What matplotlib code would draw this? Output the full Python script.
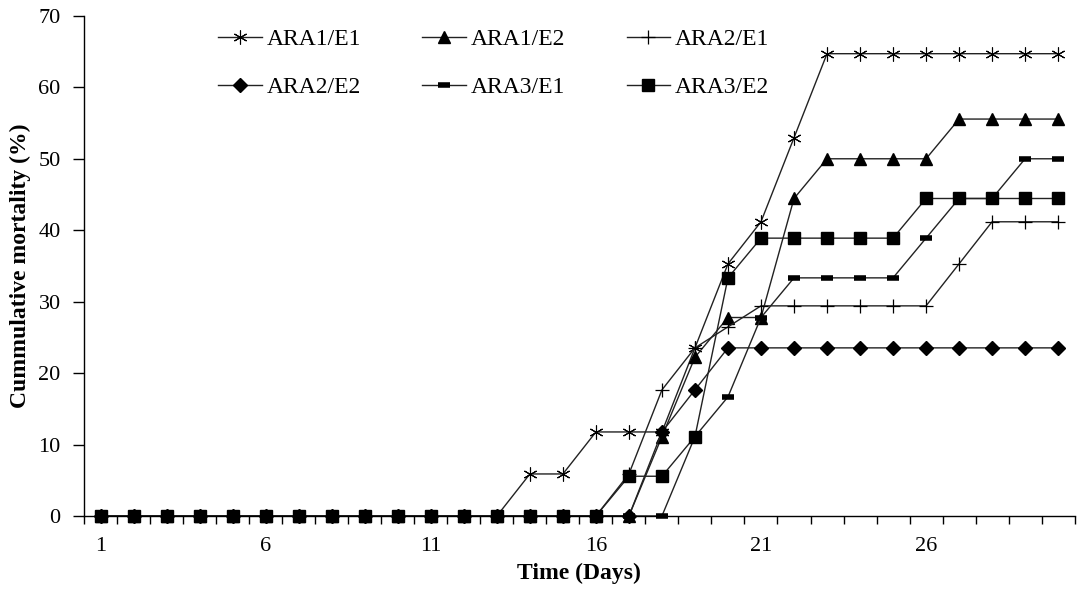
import matplotlib.pyplot as plt
from matplotlib.ticker import MultipleLocator, FixedLocator

plt.rcParams['font.family'] = ['Liberation Serif', 'DejaVu Serif']

days = list(range(1, 31))

ara1_e1 = [0, 0, 0, 0, 0, 0, 0, 0, 0, 0, 0, 0, 0, 5.88, 5.88, 11.76, 11.76, 11.76,
           23.53, 35.29, 41.18, 52.94, 64.71, 64.71, 64.71, 64.71, 64.71, 64.71, 64.71, 64.71]
ara1_e2 = [0, 0, 0, 0, 0, 0, 0, 0, 0, 0, 0, 0, 0, 0, 0, 0, 0, 11.11,
           22.22, 27.78, 27.78, 44.44, 50, 50, 50, 50, 55.56, 55.56, 55.56, 55.56]
ara2_e1 = [0, 0, 0, 0, 0, 0, 0, 0, 0, 0, 0, 0, 0, 0, 0, 0, 5.88, 17.65,
           23.53, 26.47, 29.41, 29.41, 29.41, 29.41, 29.41, 29.41, 35.29, 41.18, 41.18, 41.18]
ara2_e2 = [0, 0, 0, 0, 0, 0, 0, 0, 0, 0, 0, 0, 0, 0, 0, 0, 0, 11.76,
           17.65, 23.53, 23.53, 23.53, 23.53, 23.53, 23.53, 23.53, 23.53, 23.53, 23.53, 23.53]
ara3_e1 = [0, 0, 0, 0, 0, 0, 0, 0, 0, 0, 0, 0, 0, 0, 0, 0, 0, 0,
           11.11, 16.67, 27.78, 33.33, 33.33, 33.33, 33.33, 38.89, 44.44, 44.44, 50, 50]
ara3_e2 = [0, 0, 0, 0, 0, 0, 0, 0, 0, 0, 0, 0, 0, 0, 0, 0, 5.56, 5.56,
           11.11, 33.33, 38.89, 38.89, 38.89, 38.89, 38.89, 44.44, 44.44, 44.44, 44.44, 44.44]

series = [
    ('ARA1/E1', ara1_e1, dict(marker=(6, 2, 0), markersize=10, markeredgewidth=0.8)),
    ('ARA1/E2', ara1_e2, dict(marker='^', markersize=9)),
    ('ARA2/E1', ara2_e1, dict(marker='+', markersize=10, markeredgewidth=0.9)),
    ('ARA2/E2', ara2_e2, dict(marker='D', markersize=7)),
    ('ARA3/E1', ara3_e1, dict(marker='_', markersize=8, markeredgewidth=4)),
    ('ARA3/E2', ara3_e2, dict(marker='s', markersize=9)),
]

fig = plt.figure(figsize=(10.8, 5.89), dpi=100)
ax = fig.add_axes([0.078, 0.124, 0.917, 0.849])

handles = []
for name, vals, style in series:
    h, = ax.plot(days, vals, color='#222222', linewidth=1.0, markerfacecolor='black',
                 markeredgecolor='black', label=name, clip_on=False, **style)
    handles.append(h)

ax.set_xlim(0.5, 30.5)
ax.set_ylim(0, 70)
ax.yaxis.set_major_locator(MultipleLocator(10))
ax.xaxis.set_major_locator(FixedLocator([1, 6, 11, 16, 21, 26]))
ax.xaxis.set_minor_locator(FixedLocator([d + 0.5 for d in range(0, 31)]))
ax.tick_params(axis='x', which='major', length=0, pad=15, labelsize=16)
ax.tick_params(axis='x', which='minor', length=6, width=1, direction='out')
ax.tick_params(axis='y', which='major', length=8, width=1, direction='out', labelsize=16, pad=9)

for side in ['top', 'right']:
    ax.spines[side].set_visible(False)
for side in ['left', 'bottom']:
    ax.spines[side].set_linewidth(1.0)

ax.set_xlabel('Time (Days)', fontsize=17, fontweight='bold', labelpad=5)
ax.set_ylabel('Cummulative mortality (%)', fontsize=17, fontweight='bold', labelpad=5)

# legend filled row by row, as in the original
order = [0, 3, 1, 4, 2, 5]
ax.legend([handles[i] for i in order], [series[i][0] for i in order],
          loc='upper left', bbox_to_anchor=(0.191, 0.972), bbox_transform=fig.transFigure,
          ncol=3, frameon=False, fontsize=17, handlelength=1.85, labelspacing=1.12,
          columnspacing=2.6, handletextpad=0.2, borderpad=0)

fig.savefig('out.png', dpi=100)
